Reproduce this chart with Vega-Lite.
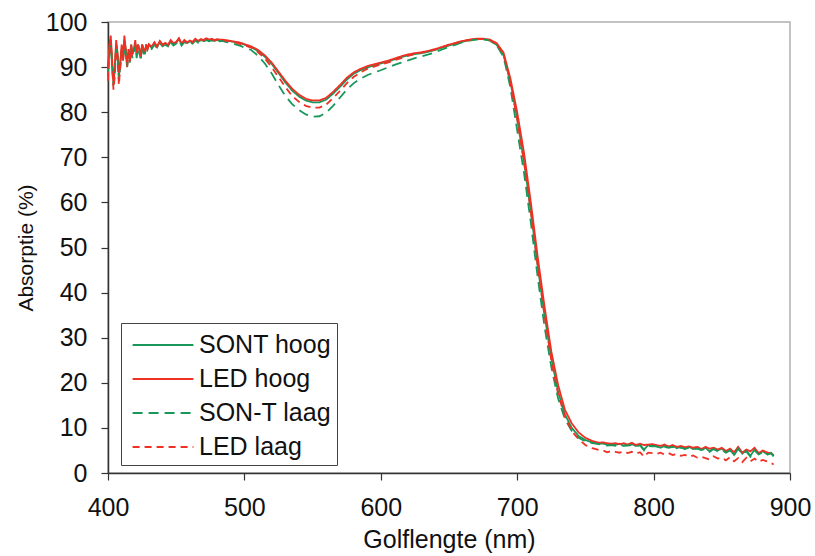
{
  "$schema": "https://vega.github.io/schema/vega-lite/v6.json",
  "autosize": "none",
  "width": 682,
  "height": 451,
  "padding": {"left": 108, "top": 22, "right": 25, "bottom": 83},
  "background": "white",
  "config": {
    "font": "Liberation Sans",
    "view": {"stroke": "#b0b0b0", "strokeWidth": 1.5},
    "axis": {"grid": false, "domainColor": "#333", "domainWidth": 1.5, "tickColor": "#333", "tickWidth": 1.2, "tickSize": 7, "labelFont": "Liberation Sans", "labelFontSize": 25, "labelColor": "#111", "labelFlush": false, "titleFont": "Liberation Sans", "titleFontWeight": "normal", "titleColor": "#111"}
  },
  "data": {
    "values": [
      {"nm":400,"sh":90,"lh":88,"sl":89,"ll":87},
      {"nm":401,"sh":94,"lh":95,"sl":93,"ll":94},
      {"nm":402,"sh":96,"lh":97,"sl":95,"ll":96},
      {"nm":403,"sh":91,"lh":92,"sl":90,"ll":90},
      {"nm":404,"sh":87,"lh":86,"sl":86,"ll":85},
      {"nm":405,"sh":90,"lh":90,"sl":89,"ll":88},
      {"nm":406,"sh":95,"lh":96,"sl":94,"ll":95},
      {"nm":407,"sh":93,"lh":93,"sl":92,"ll":92},
      {"nm":408,"sh":89,"lh":88,"sl":87,"ll":86},
      {"nm":409,"sh":91,"lh":91,"sl":90,"ll":90},
      {"nm":410,"sh":94,"lh":95,"sl":93,"ll":94},
      {"nm":411,"sh":92,"lh":92,"sl":91,"ll":91},
      {"nm":412,"sh":96,"lh":97,"sl":95,"ll":96},
      {"nm":413,"sh":94,"lh":94,"sl":93,"ll":93},
      {"nm":414,"sh":91,"lh":91,"sl":90,"ll":90},
      {"nm":415,"sh":93,"lh":94,"sl":92,"ll":93},
      {"nm":416,"sh":92,"lh":92,"sl":91,"ll":91},
      {"nm":417,"sh":95,"lh":95,"sl":94,"ll":94},
      {"nm":418,"sh":93,"lh":93,"sl":92,"ll":93},
      {"nm":419,"sh":94,"lh":94,"sl":93,"ll":94},
      {"nm":420,"sh":95,"lh":96,"sl":95,"ll":95},
      {"nm":421,"sh":93,"lh":93,"sl":92,"ll":93},
      {"nm":422,"sh":95,"lh":95,"sl":94,"ll":95},
      {"nm":423,"sh":94,"lh":94,"sl":93,"ll":94},
      {"nm":424,"sh":92,"lh":92,"sl":92,"ll":92},
      {"nm":425,"sh":95,"lh":95,"sl":94,"ll":95},
      {"nm":426,"sh":94,"lh":94,"sl":93,"ll":94},
      {"nm":427,"sh":93,"lh":93,"sl":93,"ll":93},
      {"nm":428,"sh":95,"lh":95,"sl":94,"ll":95},
      {"nm":429,"sh":94,"lh":94,"sl":94,"ll":94},
      {"nm":430,"sh":95,"lh":95,"sl":94,"ll":95},
      {"nm":432,"sh":94.2,"lh":94.5,"sl":94,"ll":94.4},
      {"nm":434,"sh":95.3,"lh":95.5,"sl":95,"ll":95.4},
      {"nm":436,"sh":94.4,"lh":94.6,"sl":94.2,"ll":94.5},
      {"nm":438,"sh":95.6,"lh":95.8,"sl":95.3,"ll":95.7},
      {"nm":440,"sh":94.8,"lh":95.0,"sl":94.6,"ll":94.9},
      {"nm":442,"sh":95.2,"lh":95.4,"sl":95.0,"ll":95.3},
      {"nm":444,"sh":94.6,"lh":94.9,"sl":94.4,"ll":94.8},
      {"nm":446,"sh":95.8,"lh":96.0,"sl":95.5,"ll":95.9},
      {"nm":448,"sh":95.0,"lh":95.3,"sl":94.8,"ll":95.2},
      {"nm":450,"sh":95.4,"lh":95.6,"sl":95.2,"ll":95.5},
      {"nm":452,"sh":96.2,"lh":96.4,"sl":96.0,"ll":96.3},
      {"nm":454,"sh":95.0,"lh":95.2,"sl":94.8,"ll":95.1},
      {"nm":456,"sh":95.8,"lh":96.0,"sl":95.6,"ll":95.9},
      {"nm":458,"sh":95.3,"lh":95.5,"sl":95.1,"ll":95.4},
      {"nm":460,"sh":95.7,"lh":95.9,"sl":95.5,"ll":95.8},
      {"nm":462,"sh":95.4,"lh":95.6,"sl":95.2,"ll":95.5},
      {"nm":464,"sh":96.1,"lh":96.3,"sl":95.9,"ll":96.2},
      {"nm":466,"sh":95.6,"lh":95.8,"sl":95.4,"ll":95.7},
      {"nm":468,"sh":96.0,"lh":96.2,"sl":95.8,"ll":96.1},
      {"nm":470,"sh":95.8,"lh":96.0,"sl":95.6,"ll":95.9},
      {"nm":472,"sh":96.2,"lh":96.4,"sl":96.0,"ll":96.3},
      {"nm":474,"sh":95.9,"lh":96.1,"sl":95.7,"ll":96.0},
      {"nm":476,"sh":96.1,"lh":96.3,"sl":95.9,"ll":96.2},
      {"nm":478,"sh":95.8,"lh":96.0,"sl":95.6,"ll":95.9},
      {"nm":480,"sh":96.0,"lh":96.2,"sl":95.8,"ll":96.1},
      {"nm":482,"sh":95.9,"lh":96.1,"sl":95.7,"ll":96.0},
      {"nm":484,"sh":96.0,"lh":96.1,"sl":95.8,"ll":96.0},
      {"nm":486,"sh":95.8,"lh":96.0,"sl":95.6,"ll":95.9},
      {"nm":488,"sh":95.8,"lh":95.9,"sl":95.5,"ll":95.8},
      {"nm":490,"sh":95.7,"lh":95.8,"sl":95.4,"ll":95.7},
      {"nm":492,"sh":95.6,"lh":95.7,"sl":95.2,"ll":95.5},
      {"nm":494,"sh":95.5,"lh":95.6,"sl":95.0,"ll":95.4},
      {"nm":496,"sh":95.3,"lh":95.5,"sl":94.8,"ll":95.2},
      {"nm":498,"sh":95.2,"lh":95.3,"sl":94.6,"ll":95.0},
      {"nm":500,"sh":95.0,"lh":95.1,"sl":94.3,"ll":94.8},
      {"nm":505,"sh":94.4,"lh":94.6,"sl":93.8,"ll":94.3},
      {"nm":510,"sh":93.6,"lh":93.8,"sl":92.5,"ll":93.3},
      {"nm":515,"sh":92.3,"lh":92.6,"sl":90.8,"ll":91.9},
      {"nm":520,"sh":90.7,"lh":91.0,"sl":88.6,"ll":90.0},
      {"nm":525,"sh":88.7,"lh":89.0,"sl":86.0,"ll":87.8},
      {"nm":530,"sh":86.6,"lh":87.0,"sl":83.6,"ll":85.6},
      {"nm":535,"sh":84.8,"lh":85.2,"sl":81.8,"ll":83.6},
      {"nm":540,"sh":83.5,"lh":83.9,"sl":80.5,"ll":82.3},
      {"nm":545,"sh":82.6,"lh":83.0,"sl":79.5,"ll":81.4},
      {"nm":550,"sh":82.2,"lh":82.6,"sl":79.0,"ll":81.0},
      {"nm":555,"sh":82.2,"lh":82.6,"sl":79.1,"ll":81.0},
      {"nm":560,"sh":82.8,"lh":83.2,"sl":79.9,"ll":81.7},
      {"nm":565,"sh":84.1,"lh":84.5,"sl":81.4,"ll":83.1},
      {"nm":570,"sh":85.6,"lh":86.0,"sl":83.2,"ll":84.7},
      {"nm":575,"sh":87.2,"lh":87.6,"sl":85.0,"ll":86.4},
      {"nm":580,"sh":88.5,"lh":88.8,"sl":86.4,"ll":87.8},
      {"nm":585,"sh":89.3,"lh":89.6,"sl":87.4,"ll":88.8},
      {"nm":590,"sh":89.9,"lh":90.2,"sl":88.2,"ll":89.6},
      {"nm":595,"sh":90.4,"lh":90.6,"sl":88.8,"ll":90.1},
      {"nm":600,"sh":90.8,"lh":91.0,"sl":89.3,"ll":90.6},
      {"nm":605,"sh":91.2,"lh":91.4,"sl":89.9,"ll":91.0},
      {"nm":610,"sh":91.7,"lh":91.9,"sl":90.5,"ll":91.5},
      {"nm":615,"sh":92.2,"lh":92.4,"sl":91.0,"ll":92.0},
      {"nm":620,"sh":92.6,"lh":92.8,"sl":91.5,"ll":92.5},
      {"nm":625,"sh":92.9,"lh":93.1,"sl":92.0,"ll":92.9},
      {"nm":630,"sh":93.1,"lh":93.3,"sl":92.4,"ll":93.2},
      {"nm":635,"sh":93.4,"lh":93.6,"sl":92.8,"ll":93.5},
      {"nm":640,"sh":93.8,"lh":94.0,"sl":93.3,"ll":93.9},
      {"nm":645,"sh":94.3,"lh":94.5,"sl":93.9,"ll":94.4},
      {"nm":650,"sh":94.8,"lh":95.0,"sl":94.5,"ll":94.9},
      {"nm":655,"sh":95.2,"lh":95.4,"sl":95.0,"ll":95.3},
      {"nm":660,"sh":95.6,"lh":95.8,"sl":95.5,"ll":95.7},
      {"nm":665,"sh":96.0,"lh":96.1,"sl":95.9,"ll":96.0},
      {"nm":670,"sh":96.2,"lh":96.3,"sl":96.1,"ll":96.2},
      {"nm":675,"sh":96.2,"lh":96.3,"sl":96.2,"ll":96.2},
      {"nm":680,"sh":95.9,"lh":96.1,"sl":95.9,"ll":96.0},
      {"nm":685,"sh":94.9,"lh":95.3,"sl":94.8,"ll":95.1},
      {"nm":690,"sh":92.6,"lh":93.2,"sl":92.3,"ll":93.0},
      {"nm":695,"sh":86.8,"lh":87.5,"sl":85.5,"ll":86.5},
      {"nm":700,"sh":78.5,"lh":80,"sl":76,"ll":78.5},
      {"nm":705,"sh":69,"lh":71,"sl":66.5,"ll":69},
      {"nm":710,"sh":58,"lh":60,"sl":55.5,"ll":58},
      {"nm":715,"sh":46,"lh":48,"sl":43.5,"ll":46},
      {"nm":720,"sh":35,"lh":37,"sl":32.5,"ll":35},
      {"nm":725,"sh":25.5,"lh":27,"sl":23.5,"ll":25},
      {"nm":730,"sh":18,"lh":19.5,"sl":16.5,"ll":17.5},
      {"nm":735,"sh":13,"lh":14,"sl":12,"ll":12.5},
      {"nm":740,"sh":10,"lh":11,"sl":9.3,"ll":9.3},
      {"nm":745,"sh":8.2,"lh":9,"sl":7.8,"ll":7.5},
      {"nm":750,"sh":7.3,"lh":7.8,"sl":7.0,"ll":6.2},
      {"nm":755,"sh":6.8,"lh":7.1,"sl":6.6,"ll":5.5},
      {"nm":760,"sh":6.5,"lh":6.7,"sl":6.4,"ll":5.1},
      {"nm":763,"sh":6.5,"lh":6.8,"sl":6.3,"ll":5.0},
      {"nm":766,"sh":6.3,"lh":6.6,"sl":6.1,"ll":4.6},
      {"nm":769,"sh":6.4,"lh":6.5,"sl":6.2,"ll":4.9},
      {"nm":772,"sh":6.2,"lh":6.6,"sl":6.0,"ll":4.7},
      {"nm":775,"sh":6.5,"lh":6.4,"sl":6.3,"ll":4.5},
      {"nm":778,"sh":6.1,"lh":6.6,"sl":6.0,"ll":4.8},
      {"nm":781,"sh":6.3,"lh":6.3,"sl":6.1,"ll":4.4},
      {"nm":784,"sh":6.4,"lh":6.7,"sl":6.2,"ll":4.7},
      {"nm":787,"sh":6.0,"lh":6.2,"sl":5.9,"ll":4.3},
      {"nm":790,"sh":6.3,"lh":6.5,"sl":6.1,"ll":4.6},
      {"nm":793,"sh":5.2,"lh":6.2,"sl":5.0,"ll":3.6},
      {"nm":796,"sh":6.2,"lh":6.3,"sl":6.0,"ll":4.5},
      {"nm":799,"sh":6.0,"lh":6.4,"sl":5.9,"ll":4.4},
      {"nm":802,"sh":6.1,"lh":6.2,"sl":5.9,"ll":4.2},
      {"nm":805,"sh":5.6,"lh":6.0,"sl":5.5,"ll":4.5},
      {"nm":808,"sh":6.0,"lh":6.3,"sl":5.8,"ll":4.1},
      {"nm":811,"sh":5.7,"lh":5.9,"sl":5.6,"ll":4.4},
      {"nm":814,"sh":6.0,"lh":6.2,"sl":5.8,"ll":4.0},
      {"nm":817,"sh":5.5,"lh":5.8,"sl":5.4,"ll":4.2},
      {"nm":820,"sh":5.8,"lh":6.0,"sl":5.6,"ll":3.8},
      {"nm":823,"sh":5.4,"lh":5.7,"sl":5.3,"ll":4.0},
      {"nm":826,"sh":5.8,"lh":5.9,"sl":5.6,"ll":3.6},
      {"nm":829,"sh":5.3,"lh":5.6,"sl":5.2,"ll":3.9},
      {"nm":832,"sh":5.6,"lh":5.8,"sl":5.4,"ll":3.4},
      {"nm":835,"sh":5.2,"lh":5.3,"sl":5.1,"ll":3.6},
      {"nm":838,"sh":5.6,"lh":5.8,"sl":5.4,"ll":3.3},
      {"nm":841,"sh":4.8,"lh":5.4,"sl":4.7,"ll":3.0},
      {"nm":844,"sh":5.5,"lh":5.6,"sl":5.3,"ll":3.7},
      {"nm":847,"sh":5.0,"lh":5.2,"sl":4.8,"ll":3.2},
      {"nm":850,"sh":5.4,"lh":5.6,"sl":5.2,"ll":3.4},
      {"nm":853,"sh":4.6,"lh":4.9,"sl":4.5,"ll":2.8},
      {"nm":856,"sh":5.2,"lh":5.4,"sl":5.0,"ll":3.5},
      {"nm":859,"sh":4.0,"lh":4.6,"sl":3.9,"ll":2.6},
      {"nm":862,"sh":5.6,"lh":5.8,"sl":5.4,"ll":3.3},
      {"nm":865,"sh":4.3,"lh":4.5,"sl":4.2,"ll":2.4},
      {"nm":868,"sh":5.0,"lh":5.2,"sl":4.8,"ll":3.4},
      {"nm":871,"sh":3.8,"lh":4.8,"sl":3.6,"ll":2.6},
      {"nm":874,"sh":5.2,"lh":5.6,"sl":5.0,"ll":3.2},
      {"nm":877,"sh":4.2,"lh":4.4,"sl":4.1,"ll":2.5},
      {"nm":880,"sh":4.8,"lh":5.0,"sl":4.6,"ll":2.9},
      {"nm":883,"sh":4.2,"lh":4.6,"sl":4.0,"ll":2.6},
      {"nm":886,"sh":4.5,"lh":4.3,"sl":4.4,"ll":2.3},
      {"nm":888,"sh":3.8,"lh":4.0,"sl":3.7,"ll":1.9}
    ]
  },
  "transform": [
    {"fold": ["sh", "lh", "sl", "ll"], "as": ["k", "v"]}
  ],
  "mark": {"type": "line", "interpolate": "linear"},
  "encoding": {
    "x": {
      "field": "nm", "type": "quantitative",
      "scale": {"domain": [400, 900], "nice": false, "zero": false},
      "axis": {"values": [400, 500, 600, 700, 800, 900], "title": "Golflengte (nm)", "labelPadding": 15, "titlePadding": 7, "titleFontSize": 25}
    },
    "y": {
      "field": "v", "type": "quantitative",
      "scale": {"domain": [0, 100], "nice": false},
      "axis": {"values": [0, 10, 20, 30, 40, 50, 60, 70, 80, 90, 100], "title": "Absorptie (%)", "labelPadding": 14, "titlePadding": 9, "titleFontSize": 21}
    },
    "color": {
      "field": "k", "type": "nominal",
      "scale": {"domain": ["sh", "lh", "sl", "ll"], "range": ["#17985a", "#ee3124", "#17985a", "#ee3124"]},
      "legend": {
        "title": null,
        "orient": "none",
        "legendX": 13,
        "legendY": 301,
        "direction": "vertical",
        "symbolType": "M-1.9,0H1.9",
        "symbolSize": 1024,
        "symbolStrokeWidth": 2,
        "symbolOffset": 20,
        "labelOffset": 19,
        "labelFont": "Liberation Sans",
        "labelFontSize": 25,
        "labelColor": "#111",
        "labelExpr": "{'sh':'SONT hoog','lh':'LED hoog','sl':'SON-T laag','ll':'\u00a0\u00a0LED laag'}[datum.label]",
        "rowPadding": 4,
        "padding": 5,
        "strokeColor": "#444",
        "fillColor": "white"
      }
    },
    "strokeDash": {
      "field": "k", "type": "nominal",
      "scale": {"domain": ["sh", "lh", "sl", "ll"], "range": [[1, 0], [1, 0], [10, 6], [7, 5]]},
      "legend": null
    },
    "strokeWidth": {
      "field": "k", "type": "nominal",
      "scale": {"domain": ["sh", "lh", "sl", "ll"], "range": [1.8, 1.8, 2.4, 1.5]},
      "legend": null
    },
    "order": {"field": "nm", "type": "quantitative"}
  }
}
